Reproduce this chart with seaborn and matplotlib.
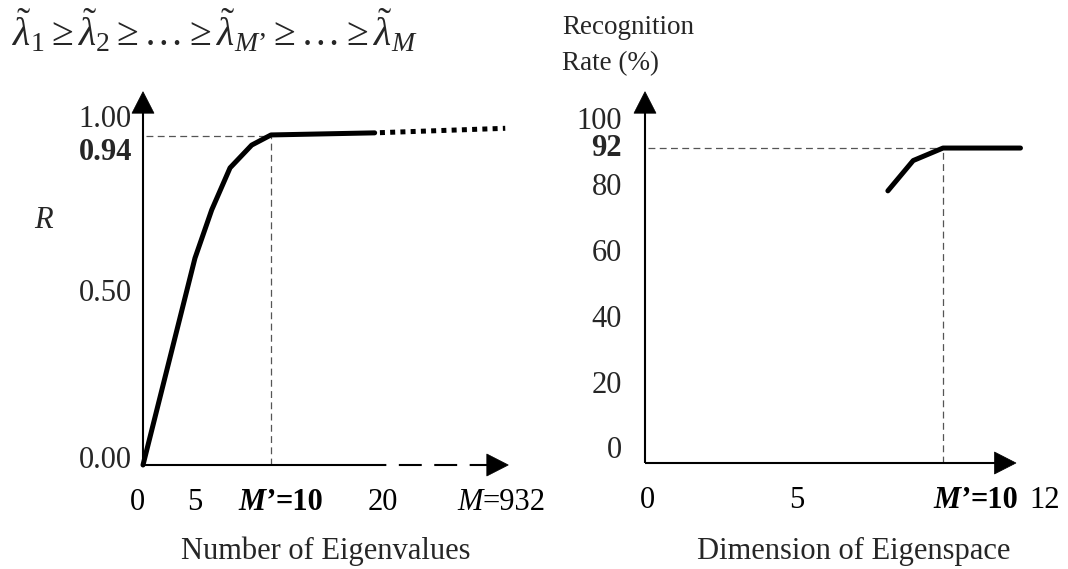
import matplotlib
matplotlib.use("Agg")
import matplotlib.pyplot as plt
import matplotlib.transforms as mtransforms
from matplotlib.patches import Polygon
from matplotlib.offsetbox import TextArea, HPacker, AnnotationBbox
import seaborn as sns

# ---------------- data ----------------
# left panel: cumulative eigenvalue ratio R
eig_n = [0, 4.06, 5.37, 6.80, 8.49, 10.0, 18.1]
eig_R = [0.0, 0.591, 0.729, 0.849, 0.914, 0.943, 0.949]
eig_tail_n = [18.1, 28.3]
eig_tail_R = [0.949, 0.962]
eig_Mprime = 10
eig_R_Mprime = 0.94
eig_axis_solid_end = 18.36
eig_xtick_pos = [-0.4, 4.06, 10.8, 18.75, 28.0]
eig_xtick_labels = [[("0", "normal", "normal")],
                    [("5", "normal", "normal")],
                    [("M\u2019", "italic", "bold"), ("=10", "normal", "bold")],
                    [("20", "normal", "normal")],
                    [("M", "italic", "normal"), ("=932", "normal", "normal")]]
eig_ytick_vals = [0.0, 0.5, 0.94, 1.0]
eig_ytick_labels = ["0.00", "0.50", "0.94", "1.00"]
eig_ytick_bold = [False, False, True, False]
eig_ytick_nudge_px = [4, -4, -17, -5]

# right panel: recognition rate
dim_n = [8.15, 9.0, 10.0, 12.6]
dim_rate = [79.0, 88.2, 92.0, 92.0]
dim_Mprime = 10
dim_rate_Mprime = 92
dim_xtick_pos = [0.07, 5.1, 11.1, 13.4]
dim_xtick_labels = [[("0", "normal", "normal")],
                    [("5", "normal", "normal")],
                    [("M\u2019", "italic", "bold"), ("=10", "normal", "bold")],
                    [("12", "normal", "normal")]]
dim_ytick_vals = [0, 20, 40, 60, 80, 92, 100]
dim_ytick_labels = ["0", "20", "40", "60", "80", "92", "100"]
dim_ytick_bold = [False, False, False, False, False, True, False]

title_formula = ("$\\tilde{\\lambda}_1 \\geq \\tilde{\\lambda}_2 \\geq \\ldots \\geq "
                 "\\tilde{\\lambda}_{M\u2019} \\geq \\ldots \\geq \\tilde{\\lambda}_M$")

# ---------------- style ----------------
sns.set_theme(style="white")
FONT = "Liberation Serif"
plt.rcParams["font.family"] = [FONT, "DejaVu Serif"]
plt.rcParams["mathtext.fontset"] = "custom"
plt.rcParams["mathtext.rm"] = FONT
plt.rcParams["mathtext.it"] = FONT + ":italic"
plt.rcParams["mathtext.bf"] = FONT + ":bold"
plt.rcParams["mathtext.fallback"] = "stix"
FS = 22
LW_CURVE = 3.6
LW_AXIS = 1.5
GUIDE = dict(color="#555555", lw=0.9, linestyle=(0, (5.5, 3.5)), zorder=1, clip_on=False)

W, H = 1068, 569
fig = plt.figure(figsize=(W / 100, H / 100), dpi=100)
fig.patch.set_facecolor("white")


def rect(x0, yb, x1, yt):
    return [x0 / W, 1 - yb / H, (x1 - x0) / W, (yb - yt) / H]


axL = fig.add_axes(rect(143, 465, 508.3, 91.7))
axR = fig.add_axes(rect(645, 463, 1016, 91.7))
axL.set_xlim(0, (508.3 - 143) / 12.8)
axL.set_ylim(0, (465 - 91.7) / 350)
r_bottom = -12 / 3.293
axR.set_xlim(0, (1016 - 645) / 29.8)
axR.set_ylim(r_bottom, r_bottom + (463 - 91.7) / 3.293)

for ax in (axL, axR):
    ax.set_facecolor("none")
    for s in ax.spines.values():
        s.set_visible(False)
    ax.set_xticks([])
    ax.set_yticks([])
    ax.grid(False)


def arrowhead(ax, xa, ya, direction):
    L, Wd = 0.215, 0.11  # inches
    if direction == "right":
        verts = [(0, 0), (-L, Wd), (-L, -Wd)]
    else:
        verts = [(0, 0), (-Wd, -L), (Wd, -L)]
    tr = fig.dpi_scale_trans + mtransforms.ScaledTranslation(xa, ya, ax.transAxes)
    p = Polygon(verts, closed=True, transform=tr, facecolor="black",
                edgecolor="black", lw=0.5, clip_on=False, zorder=5)
    fig.add_artist(p)


# axis lines
for ax in (axL, axR):
    ax.plot([0, 0], [0, 0.98], transform=ax.transAxes, color="black",
            lw=LW_AXIS, clip_on=False, solid_capstyle="butt", zorder=4)
    arrowhead(ax, 0, 1, "up")
    arrowhead(ax, 1, 0, "right")
axR.plot([0, 0.98], [0, 0], transform=axR.transAxes, color="black",
         lw=LW_AXIS, clip_on=False, solid_capstyle="butt", zorder=4)
xtr = axL.get_xaxis_transform()
axL.plot([0, eig_axis_solid_end], [0, 0], transform=xtr, color="black",
         lw=LW_AXIS, clip_on=False, solid_capstyle="butt", zorder=4)
axL.plot([eig_axis_solid_end, axL.get_xlim()[1] - 1.0], [0, 0], transform=xtr,
         color="black", lw=LW_AXIS, clip_on=False, linestyle=(7, (11, 6)),
         dash_capstyle="butt", zorder=4)

# guide lines
axL.hlines(eig_R_Mprime, 0.2, eig_Mprime, **GUIDE)
axL.vlines(eig_Mprime, 0, eig_R_Mprime, **GUIDE)
axR.hlines(dim_rate_Mprime, 0.1, dim_Mprime, **GUIDE)
axR.vlines(dim_Mprime, r_bottom, dim_rate_Mprime, **GUIDE)

# curves
sns.lineplot(x=eig_n, y=eig_R, ax=axL, color="black", lw=LW_CURVE, sort=False,
             clip_on=False, zorder=3)
sns.lineplot(x=eig_tail_n, y=eig_tail_R, ax=axL, color="black", lw=LW_CURVE,
             sort=False, clip_on=False, zorder=3, linestyle=(1.0, (1, 1.05)),
             dash_capstyle="butt")
sns.lineplot(x=dim_n, y=dim_rate, ax=axR, color="black", lw=LW_CURVE, sort=False,
             clip_on=False, zorder=3)


def xlabel_parts(ax, xpos, parts, dy_px):
    boxes = [TextArea(t, textprops=dict(fontsize=FS, fontstyle=st, fontweight=wt,
                                        family=FONT, color="black"))
             for t, st, wt in parts]
    pack = HPacker(children=boxes, align="baseline", pad=0, sep=0)
    ab = AnnotationBbox(pack, (xpos, 0), xycoords=("data", "axes fraction"),
                        xybox=(0, -dy_px * 0.72), boxcoords="offset points",
                        frameon=False, box_alignment=(0.5, 0.5), pad=0,
                        annotation_clip=False)
    ax.add_artist(ab)


for pos, parts in zip(eig_xtick_pos, eig_xtick_labels):
    xlabel_parts(axL, pos, parts, 38)
for pos, parts in zip(dim_xtick_pos, dim_xtick_labels):
    xlabel_parts(axR, pos, parts, 37)

for v, lab, b, nd in zip(eig_ytick_vals, eig_ytick_labels, eig_ytick_bold, eig_ytick_nudge_px):
    axL.annotate(lab, xy=(0, v), xycoords=("axes fraction", "data"),
                 xytext=(-8, nd * 0.72), textcoords="offset points",
                 ha="right", va="center", fontsize=FS,
                 fontweight="bold" if b else "normal", annotation_clip=False)
for v, lab, b in zip(dim_ytick_vals, dim_ytick_labels, dim_ytick_bold):
    axR.annotate(lab, xy=(0, v), xycoords=("axes fraction", "data"),
                 xytext=(-16.5, 0), textcoords="offset points",
                 ha="right", va="center", fontsize=FS,
                 fontweight="bold" if b else "normal", annotation_clip=False)


def ftext(x, y, s, **kw):
    fig.text(x / W, 1 - y / H, s, fontsize=kw.pop("fontsize", FS), **kw)


ftext(326, 551, "Number of Eigenvalues", ha="center", va="center")
ftext(854, 551, "Dimension of Eigenspace", ha="center", va="center")
ftext(43, 221, "R", ha="center", va="center", fontstyle="italic")
ftext(562, 28, "Recognition", ha="left", va="center", fontsize=19.5)
ftext(562, 64, "Rate (%)", ha="left", va="center", fontsize=19.5)
ftext(12, 46, title_formula, ha="left", va="baseline", fontsize=28.5)

fig.savefig("out.png", dpi=100, facecolor="white")
